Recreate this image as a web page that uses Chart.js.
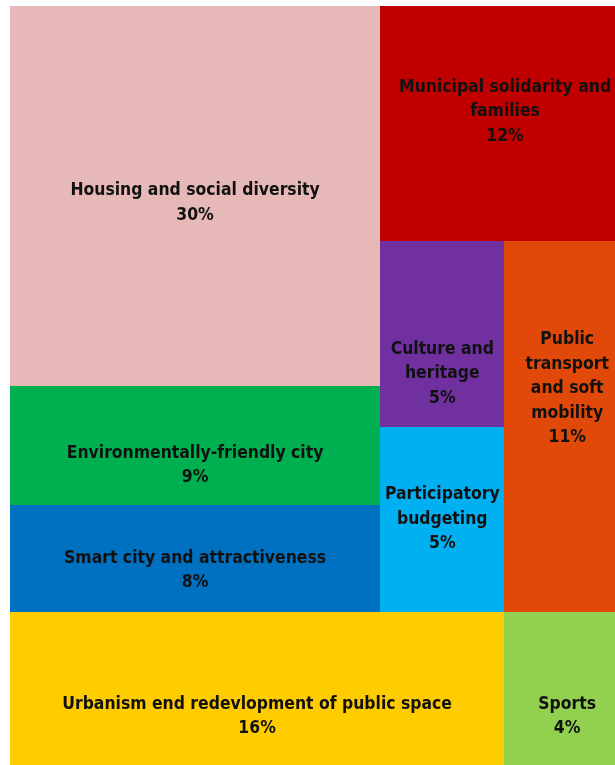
<!DOCTYPE html>
<html>
<head>
<meta charset="utf-8">
<script src="https://cdn.jsdelivr.net/npm/chart.js@4.4.1/dist/chart.umd.min.js"></script>
<style>
html, body { margin: 0; padding: 0; background: #ffffff; overflow: hidden; }
#wrap { position: relative; width: 630px; height: 765px; }
</style>
</head>
<body>
<div id="wrap"><canvas id="c"></canvas></div>
<script>
// ---- data ----
const categories = [
  "Housing and social diversity",
  "Urbanism end redevlopment of public space",
  "Municipal solidarity and families",
  "Public transport and soft mobility",
  "Environmentally-friendly city",
  "Smart city and attractiveness",
  "Culture and heritage",
  "Participatory budgeting",
  "Sports"
];
// label text as wrapped in the picture
const labelLines = [
  ["Housing and social diversity"],
  ["Urbanism end redevlopment of public space"],
  ["Municipal solidarity and", "families"],
  ["Public", "transport", "and soft", "mobility"],
  ["Environmentally-friendly city"],
  ["Smart city and attractiveness"],
  ["Culture and", "heritage"],
  ["Participatory", "budgeting"],
  ["Sports"]
];
// cell sizes (share of total area)
const areaValues = [29.9, 16.1, 12.5, 9.9, 9.4, 8.4, 4.9, 4.9, 4.1];
// percentages printed in the cells
const percentLabels = ["30%", "16%", "12%", "11%", "9%", "8%", "5%", "5%", "4%"];

// ---- styling ----
const cellColors = ["#E6B8B7", "#FFCC00", "#C00000", "#E0490A", "#00B050", "#0070C0", "#7030A0", "#00B0F0", "#92D050"];
const labelOffsets = [7, 28, -12, -38, 20, 12, 40, 0, 28];

// nesting of the treemap (v = stacked top-to-bottom, h = side by side)
const layoutTree = { dir: "v", children: [
  { dir: "h", children: [
    { dir: "v", children: [0, 4, 5] },
    { dir: "v", children: [2, { dir: "h", children: [ { dir: "v", children: [6, 7] }, 3 ] }] }
  ]},
  { dir: "h", children: [1, 8] }
]};

function nodeSum(n) {
  return typeof n === "number" ? areaValues[n] : n.children.reduce((s, c) => s + nodeSum(c), 0);
}
function layout(n, x0, y0, x1, y1, out) {
  if (typeof n === "number") { out[n] = { x0, y0, x1, y1 }; return out; }
  const total = nodeSum(n);
  let pos = n.dir === "h" ? x0 : y0;
  n.children.forEach(c => {
    const f = nodeSum(c) / total;
    if (n.dir === "h") {
      const w = (x1 - x0) * f;
      layout(c, pos, y0, pos + w, y1, out); pos += w;
    } else {
      const h = (y1 - y0) * f;
      layout(c, x0, pos, x1, pos + h, out); pos += h;
    }
  });
  return out;
}
const cells = layout(layoutTree, 0, 0, 1, 1, []);

const treemapPlugin = {
  id: "treemapCells",
  beforeDatasetsDraw(chart, args, opts) {
    const { ctx, scales: { x, y } } = chart;
    ctx.save();
    cells.forEach((r, i) => {
      const px0 = Math.round(x.getPixelForValue(r.x0));
      const px1 = Math.round(x.getPixelForValue(r.x1));
      const py0 = Math.round(y.getPixelForValue(r.y0));
      const py1 = Math.round(y.getPixelForValue(r.y1));
      ctx.fillStyle = cellColors[i];
      ctx.fillRect(px0, py0, px1 - px0, py1 - py0);
    });
    ctx.fillStyle = opts.color;
    ctx.font = opts.font;
    ctx.textAlign = "center";
    ctx.textBaseline = "middle";
    cells.forEach((r, i) => {
      const cx = x.getPixelForValue((r.x0 + r.x1) / 2);
      const cy = y.getPixelForValue((r.y0 + r.y1) / 2) + labelOffsets[i];
      const lines = labelLines[i].concat([percentLabels[i]]);
      const top = cy - (lines.length - 1) * opts.lineHeight / 2;
      lines.forEach((t, k) => ctx.fillText(t, cx, top + k * opts.lineHeight));
    });
    ctx.restore();
  }
};

new Chart(document.getElementById("c"), {
  type: "scatter",
  data: { datasets: [{ data: [] }] },
  options: {
    responsive: true,
    maintainAspectRatio: false,
    animation: false,
    layout: { padding: { left: 10, top: 6, right: 0, bottom: 0 } },
    scales: {
      x: { type: "linear", min: 0, max: 1, display: false },
      y: { type: "linear", min: 0, max: 1, reverse: true, display: false }
    },
    plugins: {
      legend: { display: false },
      tooltip: { enabled: false },
      treemapCells: { font: 'bold 17.4px "DejaVu Sans Condensed", "DejaVu Sans", sans-serif', color: "#111111", lineHeight: 24.5 }
    }
  },
  plugins: [treemapPlugin]
});
</script>
</body>
</html>
